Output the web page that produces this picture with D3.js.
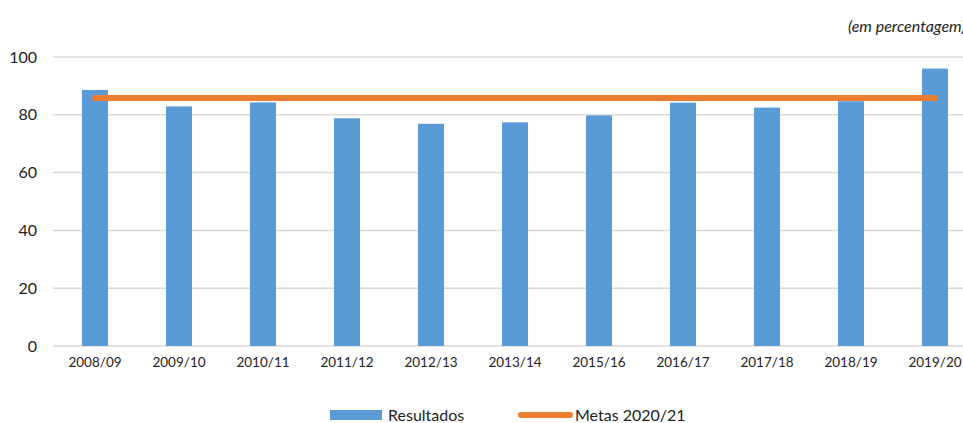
<!DOCTYPE html>
<html>
<head>
<meta charset="utf-8">
<script src="https://cdn.jsdelivr.net/npm/d3@7"></script>
<style>
  body { margin: 0; background: #fff; overflow: hidden; }
  svg { font-family: "Lato", "Open Sans", sans-serif; }
</style>
</head>
<body>
<div id="chart"></div>
<script>
// Width and height
var width  = 963;
var height = 423;

// data
var anos       = ["2008/09","2009/10","2010/11","2011/12","2012/13","2013/14","2015/16","2016/17","2017/18","2018/19","2019/20"];
var resultados = [88.6, 82.9, 84.3, 78.8, 76.9, 77.4, 79.8, 84.2, 82.5, 84.7, 96.0];
var metas      = [85.8, 85.8, 85.8, 85.8, 85.8, 85.8, 85.8, 85.8, 85.8, 85.8, 85.8];
var yTicks     = [0, 20, 40, 60, 80, 100];

// plot area
var plotLeft = 53, plotRight = 977, plotTop = 57, plotBottom = 346;

var x = d3.scaleBand()
    .domain(anos)
    .range([plotLeft, plotRight])
    .paddingInner(0.69)
    .paddingOuter(0.345);

var y = d3.scaleLinear()
    .domain([0, 100])
    .range([plotBottom, plotTop]);

var svg = d3.select("#chart")
    .append("svg")
    .attr("width", width)
    .attr("height", height);

// gridlines
svg.append("g")
    .selectAll("line")
    .data(yTicks)
    .enter()
    .append("line")
    .attr("x1", plotLeft)
    .attr("x2", width)
    .attr("y1", function(d){ return y(d); })
    .attr("y2", function(d){ return y(d); })
    .style("stroke", "#d9d9d9")
    .style("stroke-width", "1.5px");

// y labels
svg.append("g")
    .selectAll("text")
    .data(yTicks)
    .enter()
    .append("text")
    .attr("x", 37)
    .attr("y", function(d){ return y(d); })
    .attr("dy", "0.35em")
    .attr("text-anchor", "end")
    .style("font-size", "16px")
    .style("fill", "#222")
    .text(function(d){ return d; });

// x labels
var xAxis = svg.append("g")
    .attr("transform", "translate(0," + plotBottom + ")")
    .call(d3.axisBottom(x).tickSize(0).tickPadding(11));
xAxis.select(".domain").remove();
xAxis.selectAll("text")
    .style("font-family", "Lato, 'Open Sans', sans-serif")
    .style("font-size", "13.5px")
    .style("fill", "#222");

// bars
svg.append("g")
    .selectAll("rect")
    .data(resultados)
    .enter()
    .append("rect")
    .attr("x", function(d, i){ return x(anos[i]); })
    .attr("y", function(d){ return y(d); })
    .attr("width", x.bandwidth())
    .attr("height", function(d){ return y(0) - y(d); })
    .style("fill", "#5b9bd5");

// meta line
var line = d3.line()
    .x(function(d, i){ return x(anos[i]) + x.bandwidth() / 2; })
    .y(function(d){ return y(d); });

svg.append("path")
    .datum(metas)
    .attr("d", line)
    .style("fill", "none")
    .style("stroke", "#ed7d31")
    .style("stroke-width", "6px")
    .style("stroke-linecap", "round");

// units note (cut at the right edge, as in the original)
svg.append("text")
    .attr("x", 848)
    .attr("y", 32)
    .style("font-size", "16px")
    .style("font-style", "italic")
    .style("fill", "#222")
    .text("(em percentagem)");

// legend
var legend = svg.append("g");
legend.append("rect")
    .attr("x", 330)
    .attr("y", 410)
    .attr("width", 52)
    .attr("height", 10)
    .style("fill", "#5b9bd5");
legend.append("text")
    .attr("x", 388)
    .attr("y", 415)
    .attr("dy", "0.35em")
    .style("font-size", "16px")
    .style("fill", "#222")
    .text("Resultados");
legend.append("line")
    .attr("x1", 521)
    .attr("x2", 570)
    .attr("y1", 415)
    .attr("y2", 415)
    .style("stroke", "#ed7d31")
    .style("stroke-width", "6px")
    .style("stroke-linecap", "round");
legend.append("text")
    .attr("x", 575)
    .attr("y", 415)
    .attr("dy", "0.35em")
    .style("font-size", "16px")
    .style("fill", "#222")
    .text("Metas 2020/21");
</script>
</body>
</html>
